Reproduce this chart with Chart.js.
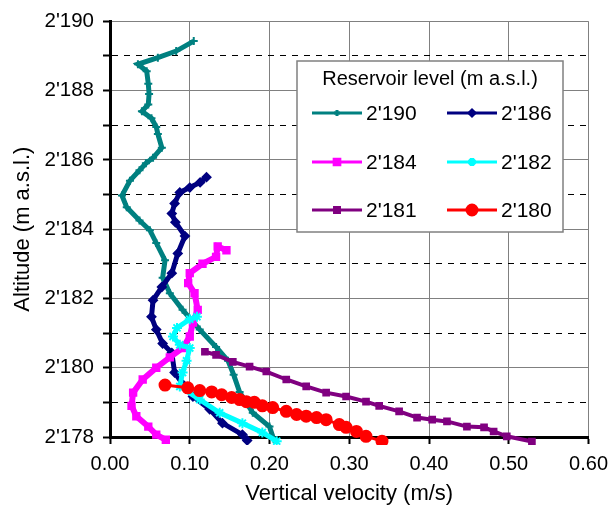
<!DOCTYPE html>
<html>
<head>
<meta charset="utf-8">
<script src="https://cdn.jsdelivr.net/npm/chart.js@4.4.1/dist/chart.umd.min.js"></script>
<style>
  html, body { margin: 0; padding: 0; background: #fff; }
  #wrap { width: 616px; height: 507px; }
</style>
</head>
<body>
<div id="wrap"><canvas id="myChart" width="616" height="507"></canvas></div>
<script>
// reservoir levels (legend labels)
const levels = ["2'190", "2'186", "2'184", "2'182", "2'181", "2'180"];

// vertical velocity (m/s) and altitude (m a.s.l.) per profile
const v2190 = [0.105, 0.083, 0.060, 0.035, 0.046, 0.048, 0.049, 0.048, 0.040, 0.052, 0.058, 0.060, 0.065, 0.054, 0.045, 0.037, 0.025, 0.015, 0.021, 0.037, 0.050, 0.058, 0.069, 0.066, 0.075, 0.091, 0.1125, 0.133, 0.148, 0.155, 0.1625, 0.179, 0.200, 0.205];
const h2190 = [2189.43, 2189.14, 2188.95, 2188.76, 2188.56, 2188.2, 2187.9, 2187.6, 2187.4, 2187.2, 2186.95, 2186.75, 2186.35, 2186.06, 2185.9, 2185.7, 2185.4, 2184.97, 2184.63, 2184.25, 2183.97, 2183.6, 2183.1, 2182.6, 2182.15, 2181.67, 2181.1, 2180.6, 2180.2, 2179.8, 2179.3, 2178.7, 2178.3, 2177.95];

const v2186 = [0.121, 0.113, 0.100, 0.0875, 0.081, 0.0775, 0.082, 0.094, 0.085, 0.0775, 0.065, 0.054, 0.052, 0.058, 0.066, 0.0775, 0.081, 0.092, 0.104, 0.125, 0.141, 0.166, 0.172];
const h2186 = [2185.5, 2185.35, 2185.2, 2185.06, 2184.74, 2184.45, 2184.2, 2183.8, 2183.3, 2182.73, 2182.33, 2181.95, 2181.47, 2181.1, 2180.7, 2180.43, 2179.86, 2179.5, 2179.17, 2178.8, 2178.4, 2178.07, 2177.9];

const v2184 = [0.146, 0.135, 0.133, 0.116, 0.100, 0.098, 0.106, 0.110, 0.104, 0.100, 0.091, 0.075, 0.058, 0.041, 0.029, 0.027, 0.033, 0.048, 0.058, 0.070];
const h2184 = [2183.39, 2183.5, 2183.2, 2183.0, 2182.73, 2182.44, 2182.15, 2181.67, 2181.3, 2180.9, 2180.57, 2180.3, 2180.0, 2179.66, 2179.28, 2178.9, 2178.6, 2178.3, 2178.07, 2177.92];

const v2182 = [0.109, 0.100, 0.084, 0.079, 0.0875, 0.100, 0.096, 0.091, 0.0875, 0.1125, 0.1375, 0.166, 0.191, 0.209];
const h2182 = [2181.47, 2181.4, 2181.15, 2180.9, 2180.66, 2180.57, 2180.2, 2179.86, 2179.46, 2179.08, 2178.7, 2178.4, 2178.13, 2177.88];

const v2181 = [0.119, 0.133, 0.154, 0.175, 0.196, 0.221, 0.246, 0.271, 0.296, 0.321, 0.3375, 0.3625, 0.385, 0.404, 0.4225, 0.4475, 0.469, 0.481, 0.4975, 0.529];
const h2181 = [2180.46, 2180.37, 2180.17, 2180.03, 2179.89, 2179.66, 2179.46, 2179.28, 2179.17, 2179.02, 2178.9, 2178.74, 2178.56, 2178.5, 2178.45, 2178.3, 2178.28, 2178.16, 2178.02, 2177.87];

const v2180 = [0.069, 0.0975, 0.1125, 0.1275, 0.140, 0.1525, 0.1625, 0.171, 0.181, 0.191, 0.204, 0.221, 0.234, 0.246, 0.259, 0.271, 0.2875, 0.296, 0.309, 0.321, 0.341];
const h2180 = [2179.5, 2179.42, 2179.34, 2179.3, 2179.22, 2179.14, 2179.08, 2179.02, 2179.0, 2178.9, 2178.85, 2178.74, 2178.65, 2178.6, 2178.56, 2178.5, 2178.36, 2178.28, 2178.16, 2178.02, 2177.88];

const xs = [v2190, v2186, v2184, v2182, v2181, v2180];
const ys = [h2190, h2186, h2184, h2182, h2181, h2180];
const colors = ['#008080', '#000080', '#ff00ff', '#00ffff', '#800080', '#ff0000'];
const markers = ['cross', 'rectRot', 'rect', 'star', 'rect', 'circle'];
const markerSize = [4, 4, 4.5, 5, 4, 5.5];
const lineWidths = [5, 5, 6, 5, 4, 3];

const FONT = "'Liberation Sans', Arial, sans-serif";

const toPoints = (xv, yv) => xv.map((x, i) => ({ x: x, y: yv[i] }));

const fmtAlt = (v) => Math.floor(v / 1000) + "'" + String(v % 1000).padStart(3, '0');

// legend drawn as a box inside the plot, like the original
const boxLegend = {
    id: 'boxLegend',
    afterDraw(chart) {
        const ctx = chart.ctx;
        const left = 297, top = 61, right = 563, bottom = 232;
        ctx.save();
        ctx.fillStyle = '#fff';
        ctx.fillRect(left, top, right - left, bottom - top);
        ctx.strokeStyle = '#808080';
        ctx.lineWidth = 1.5;
        ctx.strokeRect(left, top, right - left, bottom - top);

        ctx.fillStyle = '#000';
        ctx.font = '20px ' + FONT;
        ctx.textAlign = 'center';
        ctx.textBaseline = 'middle';
        ctx.fillText('Reservoir level (m a.s.l.)', (left + right) / 2, 79);

        const cols = [312, 447];
        const rows = [113, 162, 210];
        const legendSize = [3, 3, 4, 4, 3.5, 5];
        chart.data.datasets.forEach((ds, i) => {
            const cx = cols[i % 2];
            const cy = rows[Math.floor(i / 2)];
            ctx.strokeStyle = ds.borderColor;
            ctx.lineWidth = 3;
            ctx.beginPath();
            ctx.moveTo(cx, cy);
            ctx.lineTo(cx + 50, cy);
            ctx.stroke();
            ctx.fillStyle = ds.borderColor;
            Chart.helpers.drawPoint(ctx, {
                pointStyle: ds.pointStyle,
                radius: legendSize[i],
                borderWidth: 2,
                rotation: 0
            }, cx + 25, cy);
            ctx.fillStyle = '#000';
            ctx.textAlign = 'left';
            ctx.font = '21px ' + FONT;
            ctx.fillText(ds.label, cx + 54, cy + 1);
        });
        ctx.restore();
    }
};

const chartContext = document.getElementById('myChart').getContext('2d');
new Chart(chartContext, {
    type: 'scatter',
    data: {
        datasets: levels.map((lab, i) => ({
            label: lab,
            data: toPoints(xs[i], ys[i]),
            showLine: true,
            borderColor: colors[i],
            backgroundColor: colors[i],
            borderWidth: lineWidths[i],
            pointStyle: markers[i],
            pointRadius: markerSize[i],
            pointBorderWidth: 2,
            pointBorderColor: colors[i],
            pointBackgroundColor: colors[i],
            order: levels.length - i,
            clip: { left: 0, top: 0, right: 0, bottom: 8 }
        }))
    },
    options: {
        responsive: false,
        animation: false,
        layout: { padding: { left: 0, top: 20, right: 26, bottom: 0 } },
        plugins: {
            legend: { display: false },
            tooltip: { enabled: false }
        },
        scales: {
            x: {
                type: 'linear',
                min: 0,
                max: 0.6,
                ticks: {
                    stepSize: 0.1,
                    color: '#000',
                    font: { family: FONT, size: 20 },
                    padding: 8,
                    maxRotation: 0,
                    callback: (v) => v.toFixed(2)
                },
                grid: { color: '#808080', lineWidth: 1, tickLength: 7, tickColor: '#000', tickWidth: 2 },
                border: { color: '#000', width: 3 },
                title: {
                    display: true,
                    text: 'Vertical velocity (m/s)',
                    color: '#000',
                    font: { family: FONT, size: 22 },
                    padding: { top: 0, bottom: 0 }
                },
                afterFit: (scale) => { scale.height = 70; }
            },
            y: {
                type: 'linear',
                min: 2178,
                max: 2190,
                ticks: {
                    stepSize: 1,
                    color: '#000',
                    font: { family: FONT, size: 20.5 },
                    padding: 9,
                    callback: (v) => (v % 2 === 0 ? fmtAlt(v) : '')
                },
                grid: {
                    color: (c) => (c.tick && c.tick.value % 2 !== 0 ? '#000' : '#808080'),
                    lineWidth: 1,
                    tickLength: 7,
                    tickColor: '#000',
                    tickWidth: 2
                },
                border: {
                    color: '#000',
                    width: 3,
                    dash: (c) => (c.tick && c.tick.value % 2 !== 0 && c.tick.value > 2178 ? [6, 6] : [])
                },
                title: {
                    display: true,
                    text: 'Altitude (m a.s.l.)',
                    color: '#000',
                    font: { family: FONT, size: 22 },
                    padding: { top: 10, bottom: 0 }
                },
                afterFit: (scale) => { scale.width = 110; }
            }
        }
    },
    plugins: [boxLegend]
});
</script>
</body>
</html>
